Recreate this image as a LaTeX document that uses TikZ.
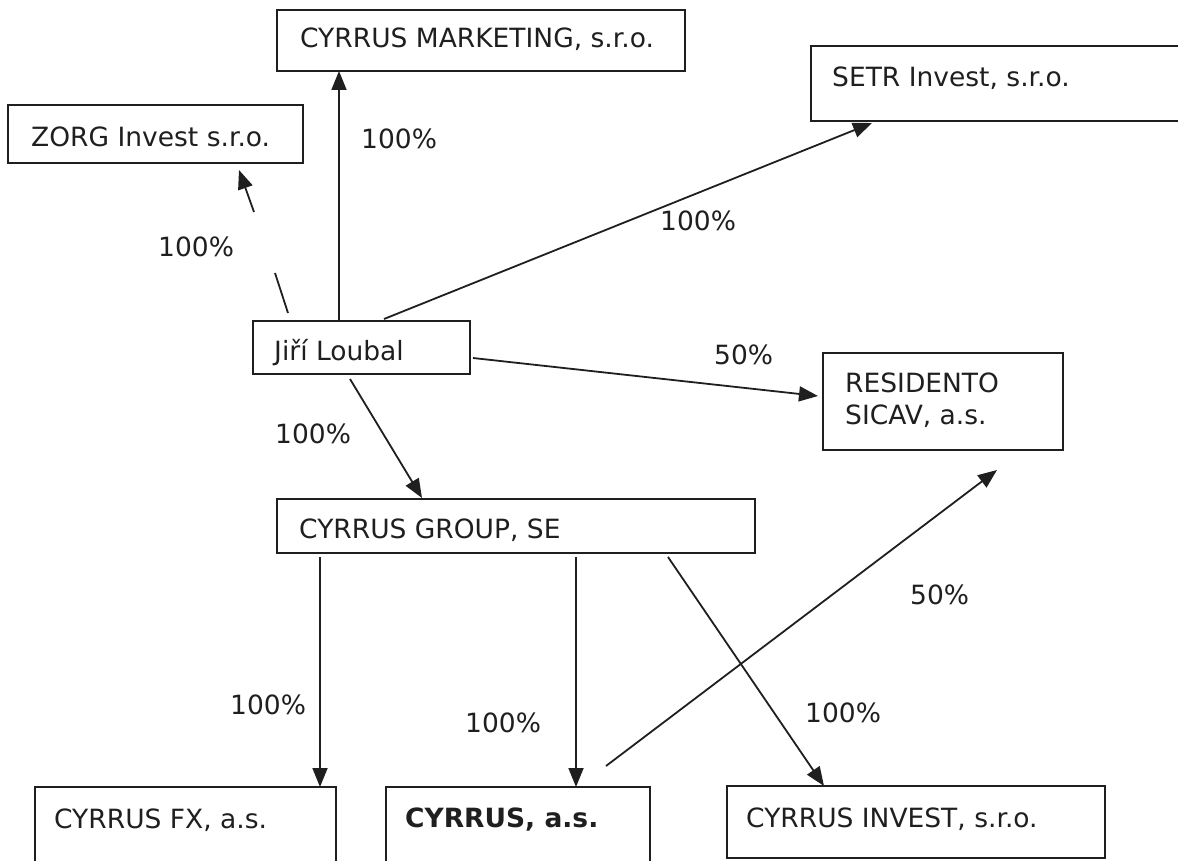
\documentclass[tikz,border=0pt]{standalone}
\usepackage{fontspec}
\setmainfont{DejaVu Sans}
\usetikzlibrary{arrows.meta}
\begin{document}
\begin{tikzpicture}[x=1pt,y=-1pt,
  box/.style={draw=black!88,line width=1.8pt,inner sep=0pt,outer sep=0pt,anchor=north west,rectangle},
  txt/.style={anchor=base west,inner sep=0pt,font=\fontsize{26.5}{33}\selectfont,text=black!88},
  conn/.style={draw=black!88,line width=1.8pt},
  arr/.style={conn,-{Triangle[length=19pt,width=15pt]}}]
\useasboundingbox (0,0) rectangle (1178,861);
% boxes
\node[box,minimum width=408pt,minimum height=61pt] (mkt) at (277,10) {};
\node[box,minimum width=400pt,minimum height=75pt] (setr) at (811,46) {};
\node[box,minimum width=295pt,minimum height=58pt] (zorg) at (8,105) {};
\node[box,minimum width=217pt,minimum height=53pt] (jiri) at (253,321) {};
\node[box,minimum width=240pt,minimum height=97pt] (res) at (823,353) {};
\node[box,minimum width=478pt,minimum height=54pt] (grp) at (277,499) {};
\node[box,minimum width=301pt,minimum height=130pt] (fx) at (35,787) {};
\node[box,minimum width=264pt,minimum height=130pt] (cyr) at (386,787) {};
\node[box,minimum width=378pt,minimum height=72pt] (inv) at (727,786) {};
% texts
\node[txt] (tmkt) at (300,48) {CYRRUS MARKETING, s.r.o.};
\node[txt] (tsetr) at (832,87) {SETR Invest, s.r.o.};
\node[txt] (tzorg) at (31,147) {ZORG Invest s.r.o.};
\node[txt] (tjiri) at (274,360) {Jiří Loubal};
\node[txt] (tres1) at (845,392) {RESIDENTO};
\node[txt] (tres2) at (845,424) {SICAV, a.s.};
\node[txt] (tgrp) at (299,538) {CYRRUS GROUP, SE};
\node[txt] (tfx) at (54,828) {CYRRUS FX, a.s.};
\node[txt,font=\fontsize{26.5}{33}\selectfont\bfseries] (tcyr) at (405,827) {CYRRUS, a.s.};
\node[txt] (tinv) at (746,827) {CYRRUS INVEST, s.r.o.};
% labels
\node[txt] (l1) at (361,149) {100\%};
\node[txt] (l2) at (158,256) {100\%};
\node[txt] (l3) at (660,231) {100\%};
\node[txt] (l4) at (714,364) {50\%};
\node[txt] (l5) at (275,443) {100\%};
\node[txt] (l6) at (910,604) {50\%};
\node[txt] (l7) at (230,714) {100\%};
\node[txt] (l8) at (465,732) {100\%};
\node[txt] (l9) at (805,722) {100\%};
% connector end points
\coordinate (jm) at (339,321);
\coordinate (mj) at (339,71);
\coordinate (jz) at (288,313);
\coordinate (zg1) at (275,273);
\coordinate (zg2) at (254,212);
\coordinate (zj) at (239,170);
\coordinate (js) at (384,319);
\coordinate (sj) at (872,123);
\coordinate (jr) at (473,358);
\coordinate (rj) at (818,396);
\coordinate (jg) at (350,379);
\coordinate (gj) at (422,498);
\coordinate (gf) at (320,557);
\coordinate (fg) at (320,787);
\coordinate (gc) at (576,557);
\coordinate (cg) at (576,787);
\coordinate (gi) at (668,557);
\coordinate (ig) at (824,786);
\coordinate (cr) at (606,766);
\coordinate (rc) at (997,470);
% connectors
\draw[arr] (jm) -- (mj);
\draw[conn] (jz) -- (zg1);
\draw[arr] (zg2) -- (zj);
\draw[arr] (js) -- (sj);
\draw[arr] (jr) -- (rj);
\draw[arr] (jg) -- (gj);
\draw[arr] (gf) -- (fg);
\draw[arr] (gc) -- (cg);
\draw[arr] (gi) -- (ig);
\draw[arr] (cr) -- (rc);
\end{tikzpicture}
\end{document}
